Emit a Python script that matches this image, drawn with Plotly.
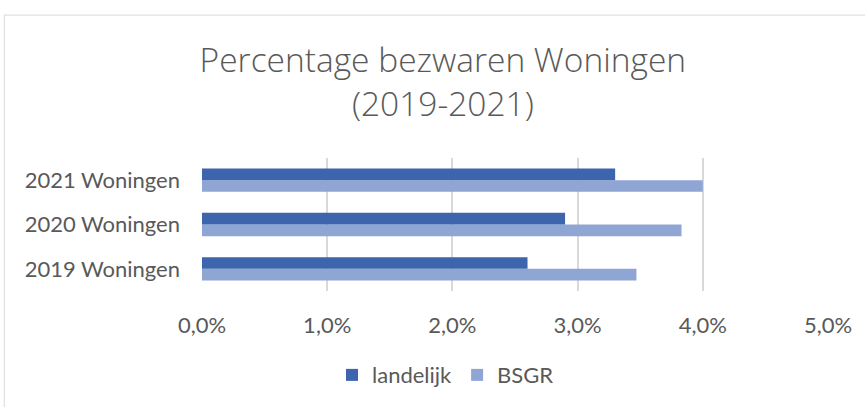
import plotly.graph_objects as go

categories = ["2019 Woningen", "2020 Woningen", "2021 Woningen"]
landelijk = [2.6, 2.9, 3.3]
bsgr = [3.47, 3.83, 4.0]
x_ticks = [0, 1, 2, 3, 4, 5]
x_ticktext = [f"{v:.1f}".replace(".", ",") + "%" for v in x_ticks]

W, H = 865, 407
ml, mr, mt, mb = 202, 37, 158, 115
pw, ph = W - ml - mr, H - mt - mb

fig = go.Figure()
fig.add_trace(go.Bar(y=categories, x=bsgr, name="BSGR", orientation="h",
                     marker=dict(color="#8fa5d4", line=dict(width=0))))
fig.add_trace(go.Bar(y=categories, x=landelijk, name="landelijk", orientation="h",
                     marker=dict(color="#3d65ad", line=dict(width=0))))

font = "Lato, 'Open Sans', sans-serif"
tfont = "'Open Sans', Lato, sans-serif"
fig.update_layout(
    width=W, height=H,
    margin=dict(l=ml, r=mr, t=mt, b=mb, pad=0),
    paper_bgcolor="white", plot_bgcolor="white",
    barmode="group", bargap=0.474, bargroupgap=0,
    separators=",.",
    title=dict(text="Percentage bezwaren Woningen<br>(2019-2021)",
               x=0.512, xanchor="center", y=0.822, yanchor="middle",
               font=dict(family=tfont, size=33.5, color="#595959", weight=300)),
    xaxis=dict(range=[0, 5], tickvals=x_ticks, ticktext=x_ticktext,
               showgrid=True, gridcolor="#d9d9d9", gridwidth=1.5, zeroline=False,
               showline=False, ticks="", ticklabelstandoff=19,
               tickfont=dict(family=font, size=22, color="#595959")),
    yaxis=dict(showgrid=False, zeroline=False, showline=False, ticks="",
               ticklabelstandoff=21,
               tickfont=dict(family=font, size=22, color="#595959")),
    legend=dict(orientation="h", x=0.389, xanchor="center", y=-0.62, yanchor="middle",
                traceorder="reversed",
                font=dict(family=font, size=22, color="#595959")),
    showlegend=True,
)

# chart border (partly outside the picture, as in the reference)
x0 = (4.3 - ml) / pw
y1 = 1 + (mt - 14) / ph
fig.add_shape(type="rect", xref="paper", yref="paper", x0=x0, x1=(W + 20 - ml) / pw,
              y0=-(mb + 20) / ph, y1=y1, line=dict(color="#d9d9d9", width=1),
              fillcolor="rgba(0,0,0,0)", layer="below")

fig.write_html("out.html", config={"displayModeBar": False},
               post_script="document.body.style.margin='0';")
